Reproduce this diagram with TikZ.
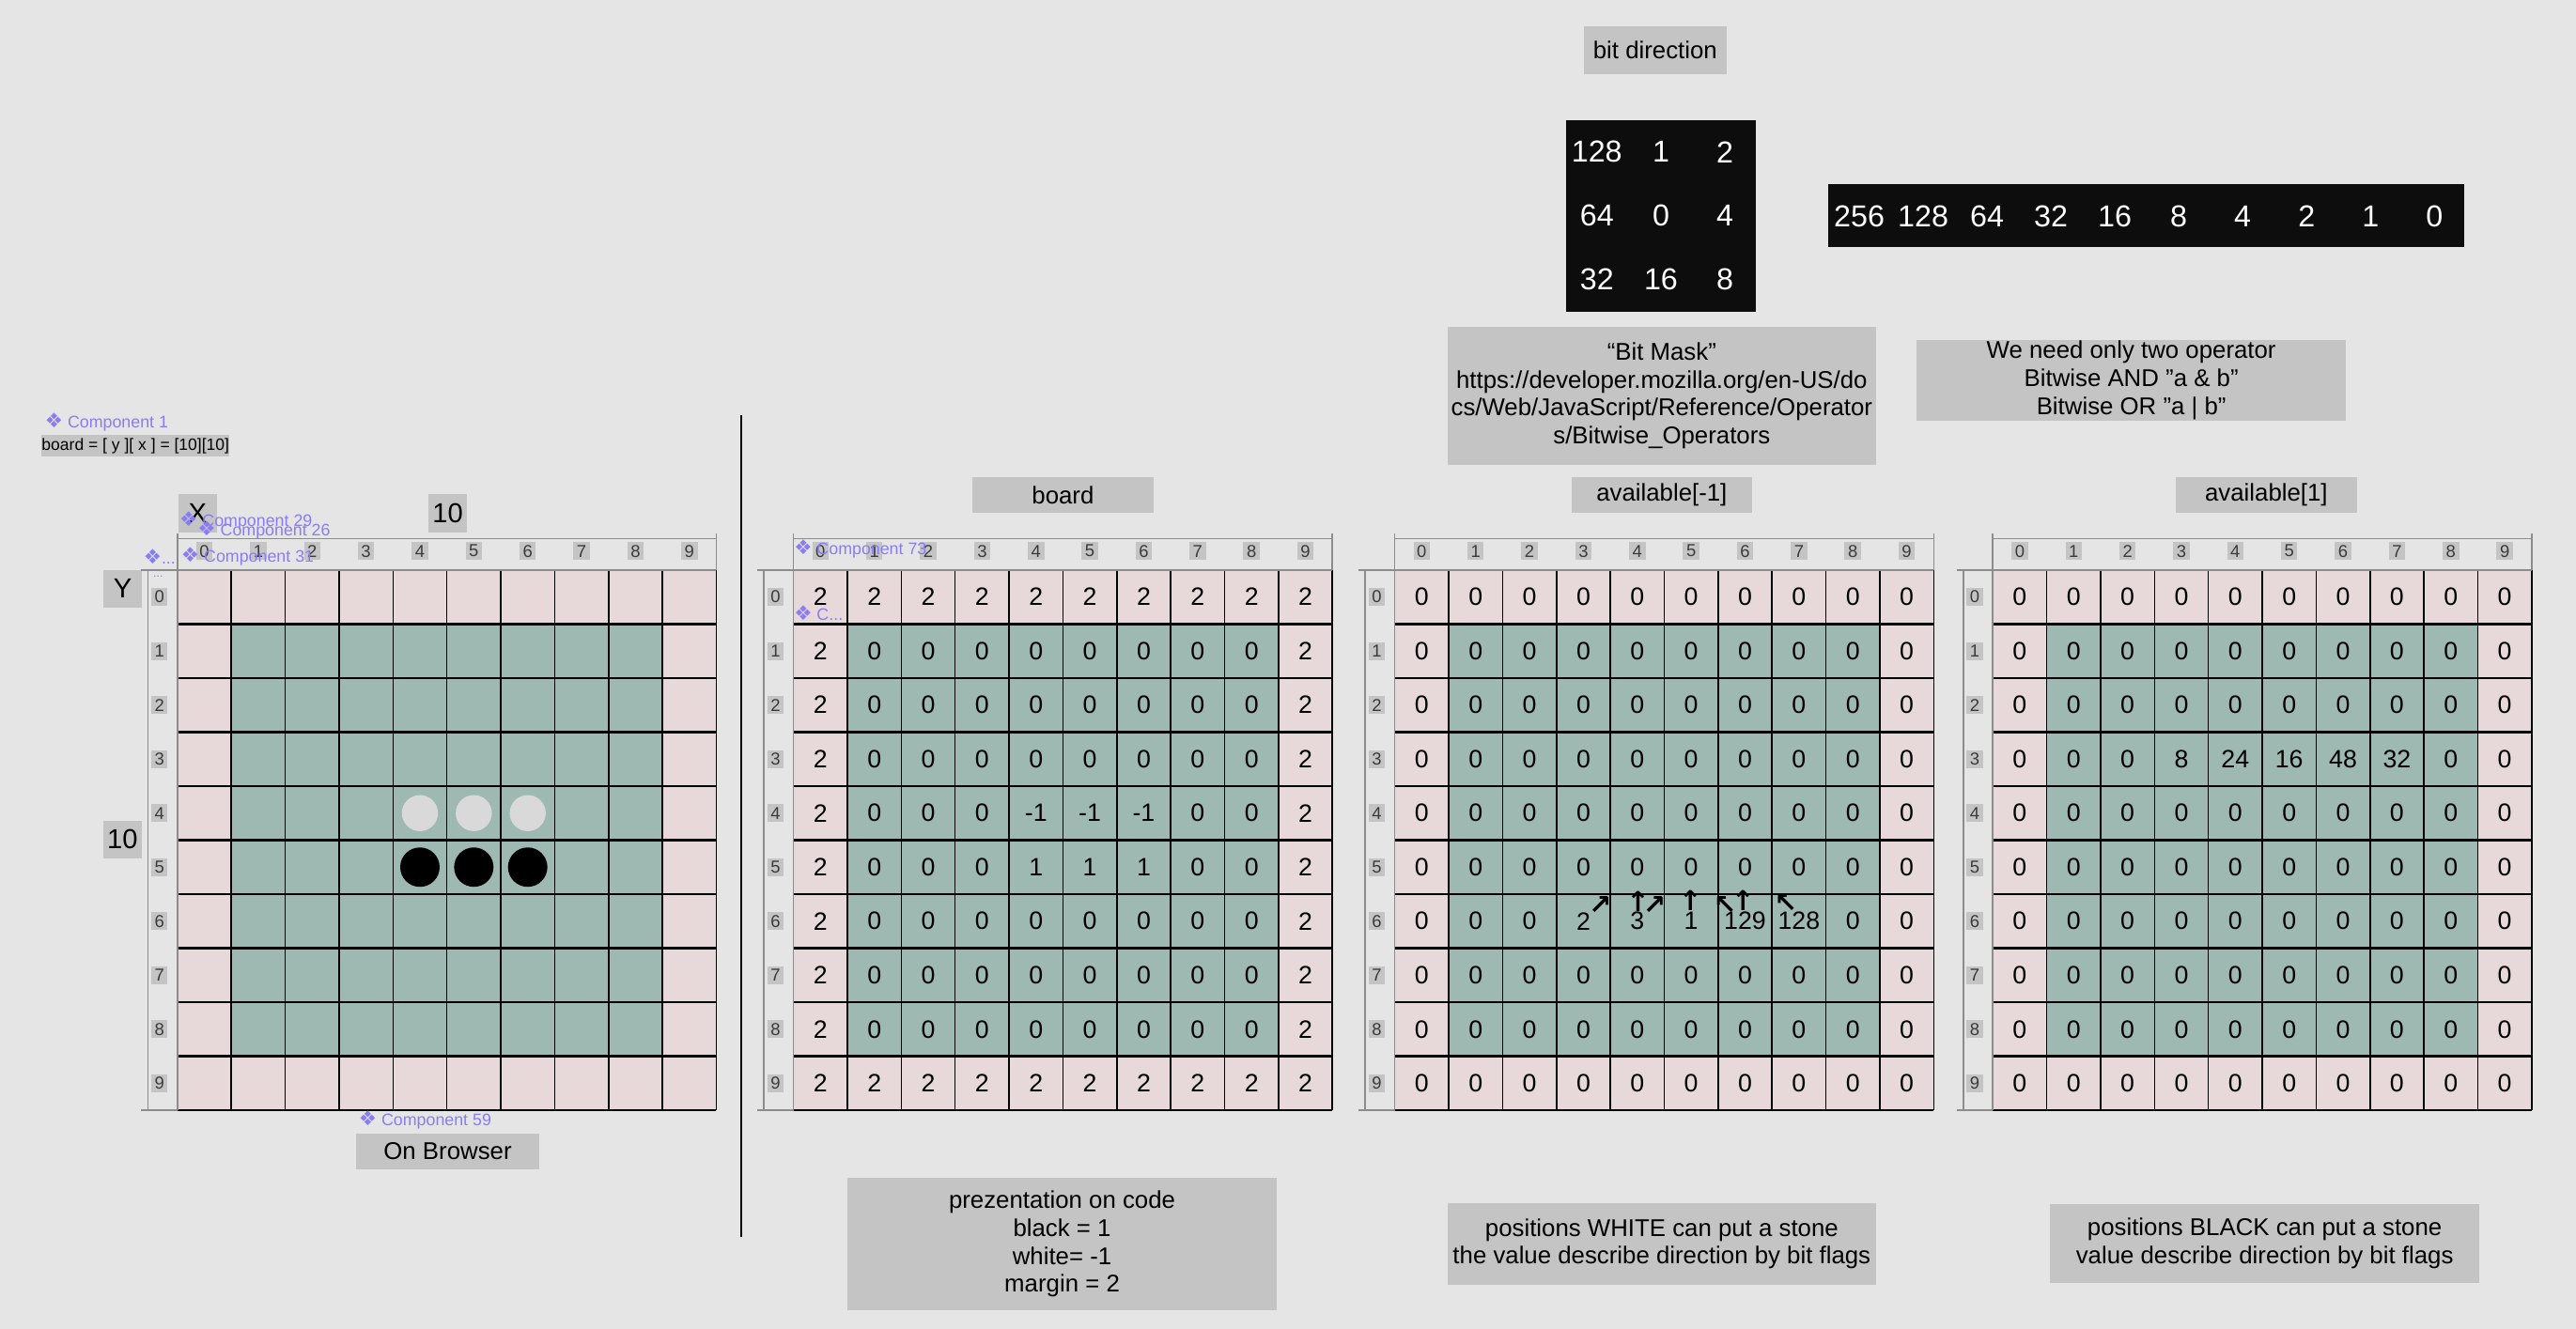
\documentclass[tikz,border=0pt]{standalone}
\usepackage{fontspec}
\setmainfont{Liberation Sans}
\newfontfamily\symfont{DejaVu Sans}
\usetikzlibrary{positioning}
\definecolor{bgcol}{HTML}{E5E5E5}
\definecolor{boxgray}{HTML}{C4C4C4}
\definecolor{cellpink}{HTML}{E7D9DA}
\definecolor{cellgreen}{HTML}{9DB9B2}
\definecolor{hdrgray}{HTML}{8C8C8C}
\definecolor{idxtext}{HTML}{3A3A3A}
\definecolor{comppurple}{HTML}{8A7CF4}
\definecolor{inkblack}{HTML}{0D0D0D}
\definecolor{stonewhite}{HTML}{D9D9D9}

\begin{document}
\begin{tikzpicture}[
    x=0.02cm, y=-0.02cm,
    every node/.style={font=\fontsize{8.4}{9.64}\selectfont},
    graybox/.style={
        fill=boxgray,
        inner sep=0pt,
        align=center,
    },
    axisbox/.style={
        graybox,
        minimum width=0.47cm,
        minimum height=0.46cm,
        font=\fontsize{9.5}{10}\selectfont,
    },
    titlebox/.style={
        graybox,
        minimum width=2.2cm,
        minimum height=0.43cm,
    },
    idx/.style={
        fill=boxgray,
        inner sep=0pt,
        minimum width=0.2cm,
        minimum height=0.22cm,
        text=idxtext,
        font=\fontsize{6}{6}\selectfont,
    },
    cellval/.style={inner sep=0pt, font=\fontsize{8.7}{9}\selectfont},
    blackbox/.style={fill=inkblack, inner sep=0pt},
    bitval/.style={text=white, inner sep=0pt, font=\fontsize{10.5}{11}\selectfont},
    comp/.style={text=comppurple, inner sep=0pt, anchor=west, font=\fontsize{5.8}{6}\selectfont},
    wstone/.style={circle, fill=stonewhite, minimum size=0.44cm, inner sep=0pt},
    bstone/.style={circle, fill=black, minimum size=0.48cm, inner sep=0pt},
    dirglyph/.style={inner sep=0pt, font=\symfont\bfseries\fontsize{9.5}{9.5}\selectfont},
    hdrline/.style={draw=hdrgray, line width=0.5pt},
    colline/.style={line width=0.5pt},
    rowline/.style={line width=0.8pt},
]
\newcommand\cmark{{\symfont\fontsize{7}{7}\selectfont ❖}}
\useasboundingbox (0,0) rectangle (1568,809);
\fill[bgcol] (0,0) rectangle (1568,809);

% === Bit direction ===
\node[graybox, minimum width=1.74cm, minimum height=0.58cm] (bitdir) at (1007.5,30.5) {bit direction};

\node[blackbox, minimum width=2.32cm, minimum height=2.34cm] (dirbox) at (1011,131.5) {};
\foreach \v [count=\i from 0] in {128,1,2,64,0,4,32,16,8}{
    \pgfmathsetmacro\dx{972+39*mod(\i,3)}
    \pgfmathsetmacro\dy{92.5+38.75*floor(\i/3)}
    \node[bitval] (dir-\i) at (\dx,\dy) {\v};
}

\node[blackbox, minimum width=7.74cm, minimum height=0.77cm] (bitbar) at (1306.5,131.25) {};
\foreach \v [count=\i from 0] in {256,128,64,32,16,8,4,2,1,0}
    \node[bitval] (bit-\i) at ({1131.7+38.9*\i},131.5) {\v};

\node[graybox, minimum width=5.22cm, minimum height=1.68cm] (bitmask) at (1011.5,241) {
    “Bit Mask”\\
    https://developer.mozilla.org/en-US/do\\
    cs/Web/JavaScript/Reference/Operator\\
    s/Bitwise\_Operators
};
\node[graybox, minimum width=5.23cm, minimum height=0.98cm] (operators) at (1297.3,231.5) {
    We need only two operator\\
    Bitwise AND ”a \& b”\\
    Bitwise OR ”a | b”
};

% === Left: board on browser ===
\node[comp] (comp1) at (27,257) {\cmark{} Component 1};
\node[graybox, minimum width=2.26cm, minimum height=0.26cm, font=\fontsize{5.7}{6}\selectfont] (boardsize) at (82.5,271.5) {board = [ y ][ x ] = [10][10]};

\node[axisbox] (xlabel) at (120.25,312.5) {X};
\node[axisbox] (xcount) at (272.5,312.5) {10};
\node[axisbox] (ylabel) at (74.65,358.5) {Y};
\node[axisbox] (ycount) at (74.5,511) {10};

% === Board frames ===
\foreach \bx/\bn in {108/brw,483/brd,849/avw,1213/avb}{
    \fill[cellpink] (\bx,347) rectangle ++(328,329);
    \fill[cellgreen] ({\bx+32.8},379.9) rectangle ++(262.4,263.2);
    \foreach \i in {1,...,10}
        \draw[colline] ({\bx+32.8*\i},347) -- ({\bx+32.8*\i},676);
    \foreach \j in {1,...,10}
        \draw[rowline] (\bx,{347+32.9*\j}) -- ({\bx+328},{347+32.9*\j});
    \draw[hdrline] ({\bx-22},347) -- ({\bx+328},347);
    \draw[hdrline] ({\bx-22},676) -- (\bx,676);
    \draw[hdrline] ({\bx-18},347) -- ({\bx-18},676);
    \draw[hdrline] (\bx,325) -- (\bx,676);
    \draw[hdrline] (\bx,328) -- ({\bx+328},328);
    \draw[hdrline] ({\bx+328},325) -- ({\bx+328},347);
    \foreach \k in {0,...,9}{
        \node[idx] (\bn-c\k) at ({\bx+32.8*(\k+0.5)},335.5) {\k};
        \node[idx] (\bn-r\k) at ({\bx-11},{347+32.9*(\k+0.5)}) {\k};
    }
}

% stones
\foreach \c in {4,5,6}{
    \node[wstone] (w\c) at ({108+32.8*(\c+0.5)},{347+32.9*4.5}) {};
    \node[bstone] (k\c) at ({108+32.8*(\c+0.5)},{347+32.9*5.5}) {};
}

\node[comp] (comp29) at (109,317) {\cmark{} Component 29};
\node[comp] (comp26) at (120,323) {\cmark{} Component 26};
\node[comp] (compdots) at (87,339) {\cmark...};
\node[comp] (comp31) at (110,339) {\cmark{} Component 31};
\node[comp, font=\fontsize{4}{4}\selectfont] (dots) at (93,351) {...};
\node[comp] (comp59) at (218,682) {\cmark{} Component 59};
\node[graybox, minimum width=2.22cm, minimum height=0.44cm] (browser) at (272.5,701) {On Browser};

\draw[line width=0.6pt] (451,253) -- (451,753);

% === board ===
\node[titlebox] (brdtitle) at (647,301.25) {board};
\foreach \row [count=\r from 0] in {
    {2,2,2,2,2,2,2,2,2,2},
    {2,0,0,0,0,0,0,0,0,2},
    {2,0,0,0,0,0,0,0,0,2},
    {2,0,0,0,0,0,0,0,0,2},
    {2,0,0,0,-1,-1,-1,0,0,2},
    {2,0,0,0,1,1,1,0,0,2},
    {2,0,0,0,0,0,0,0,0,2},
    {2,0,0,0,0,0,0,0,0,2},
    {2,0,0,0,0,0,0,0,0,2},
    {2,2,2,2,2,2,2,2,2,2}}
    \foreach \v [count=\c from 0] in \row
        \node[cellval] (brd-\r-\c) at ({483+32.8*(\c+0.5)},{347+32.9*(\r+0.5)}) {\v};
\node[comp] (comp73) at (483,334.5) {\cmark{} Component 73};
\node[comp] (compc) at (483,373) {\cmark{} C...};

% === available[-1] ===
\node[titlebox] (avwtitle) at (1011.5,301.25) {available[-1]};
\foreach \row [count=\r from 0] in {
    {0,0,0,0,0,0,0,0,0,0},
    {0,0,0,0,0,0,0,0,0,0},
    {0,0,0,0,0,0,0,0,0,0},
    {0,0,0,0,0,0,0,0,0,0},
    {0,0,0,0,0,0,0,0,0,0},
    {0,0,0,0,0,0,0,0,0,0},
    {0,0,0,2,3,1,129,128,0,0},
    {0,0,0,0,0,0,0,0,0,0},
    {0,0,0,0,0,0,0,0,0,0},
    {0,0,0,0,0,0,0,0,0,0}}
    \foreach \v [count=\c from 0] in \row
        \node[cellval] (avw-\r-\c) at ({849+32.8*(\c+0.5)},{347+32.9*(\r+0.5)}) {\v};
\node[dirglyph] (arr-a) at (974,551) {↗};
\node[dirglyph] (arr-b) at (997,549) {↑};
\node[dirglyph] (arr-c) at (1007,551) {↗};
\node[dirglyph] (arr-d) at (1029,548) {↑};
\node[dirglyph] (arr-e) at (1050,551) {↖};
\node[dirglyph] (arr-f) at (1061,548) {↑};
\node[dirglyph] (arr-g) at (1087,550) {↖};

% === available[1] ===
\node[titlebox] (avbtitle) at (1379.5,301.25) {available[1]};
\foreach \row [count=\r from 0] in {
    {0,0,0,0,0,0,0,0,0,0},
    {0,0,0,0,0,0,0,0,0,0},
    {0,0,0,0,0,0,0,0,0,0},
    {0,0,0,8,24,16,48,32,0,0},
    {0,0,0,0,0,0,0,0,0,0},
    {0,0,0,0,0,0,0,0,0,0},
    {0,0,0,0,0,0,0,0,0,0},
    {0,0,0,0,0,0,0,0,0,0},
    {0,0,0,0,0,0,0,0,0,0},
    {0,0,0,0,0,0,0,0,0,0}}
    \foreach \v [count=\c from 0] in \row
        \node[cellval] (avb-\r-\c) at ({1213+32.8*(\c+0.5)},{347+32.9*(\r+0.5)}) {\v};

% === Notes ===
\node[graybox, minimum width=5.22cm, minimum height=1.62cm] (codenote) at (646.5,757.5) {
    prezentation on code\\
    black = 1\\
    white= -1\\
    margin = 2
};
\node[graybox, minimum width=5.22cm, minimum height=0.99cm] (whitenote) at (1011.5,757.25) {
    positions WHITE can put a stone\\
    the value describe direction by bit flags
};
\node[graybox, minimum width=5.22cm, minimum height=0.96cm] (blacknote) at (1378.5,757) {
    positions BLACK can put a stone\\
    value describe direction by bit flags
};

\end{tikzpicture}
\end{document}
